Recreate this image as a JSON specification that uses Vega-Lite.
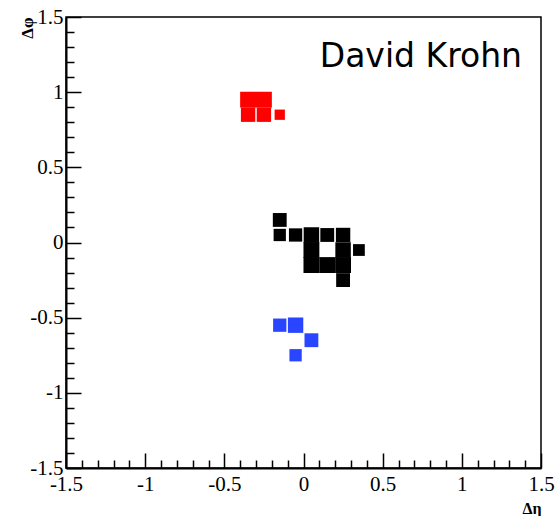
{
  "$schema": "https://vega.github.io/schema/vega-lite/v6.json",
  "width": 475,
  "height": 451,
  "autosize": "none",
  "padding": {"left": 66, "top": 17, "right": 16, "bottom": 48},
  "background": "white",
  "config": {"view": {"stroke": "black", "strokeWidth": 1.5}},
  "encoding": {
    "x": {
      "field": "eta", "type": "quantitative",
      "scale": {"domain": [-1.5, 1.5], "nice": false, "zero": false},
      "axis": {
        "title": "Δη", "titleFont": "Liberation Serif", "titleFontSize": 16, "titleFontWeight": "bold",
        "titleX": 475, "titleY": 32, "titleAlign": "right", "titleBaseline": "top", "titleColor": "black",
        "values": [-1.5,-1.4,-1.3,-1.2,-1.1,-1,-0.9,-0.8,-0.7,-0.6,-0.5,-0.4,-0.3,-0.2,-0.1,0,0.1,0.2,0.3,0.4,0.5,0.6,0.7,0.8,0.9,1,1.1,1.2,1.3,1.4,1.5],
        "labelExpr": "abs(datum.value*2 - round(datum.value*2)) < 0.001 ? '' + datum.value : ''",
        "labelFont": "Liberation Serif", "labelFontSize": 21, "labelColor": "black",
        "labelPadding": 20, "labelFlush": false, "labelOverlap": false, "labelBaseline": "top",
        "tickSize": -15, "tickColor": "black", "tickWidth": 1.5,
        "tickDash": {"condition": {"test": "abs(datum.value*2 - round(datum.value*2)) > 0.001", "value": [8, 40]}, "value": [1, 0]},
        "domainColor": "black", "domainWidth": 2, "grid": false
      }
    },
    "y": {
      "field": "phi", "type": "quantitative",
      "scale": {"domain": [-1.5, 1.5], "nice": false, "zero": false},
      "axis": {
        "title": "Δφ", "titleFont": "Liberation Serif", "titleFontSize": 17, "titleFontWeight": "bold",
        "titleX": -39, "titleY": 0, "titleAngle": -90, "titleAlign": "right", "titleBaseline": "middle", "titleColor": "black",
        "values": [-1.5,-1.4,-1.3,-1.2,-1.1,-1,-0.9,-0.8,-0.7,-0.6,-0.5,-0.4,-0.3,-0.2,-0.1,0,0.1,0.2,0.3,0.4,0.5,0.6,0.7,0.8,0.9,1,1.1,1.2,1.3,1.4,1.5],
        "labelExpr": "abs(datum.value*2 - round(datum.value*2)) < 0.001 ? '' + datum.value : ''",
        "labelFont": "Liberation Serif", "labelFontSize": 21, "labelColor": "black",
        "labelPadding": 18, "labelFlush": false, "labelOverlap": false, "labelBaseline": "middle",
        "tickSize": -15, "tickColor": "black", "tickWidth": 1.5,
        "tickDash": {"condition": {"test": "abs(datum.value*2 - round(datum.value*2)) > 0.001", "value": [8, 40]}, "value": [1, 0]},
        "domainColor": "black", "domainWidth": 2, "grid": false
      }
    }
  },
  "layer": [
    {
      "data": {"values": [
        {"eta": -0.35, "phi": 0.95, "w": 1.0, "jet": "A"},
        {"eta": -0.25, "phi": 0.95, "w": 1.0, "jet": "A"},
        {"eta": -0.35, "phi": 0.85, "w": 0.82, "jet": "A"},
        {"eta": -0.25, "phi": 0.85, "w": 0.82, "jet": "A"},
        {"eta": -0.15, "phi": 0.85, "w": 0.42, "jet": "A"},
        {"eta": -0.15, "phi": 0.15, "w": 0.76, "jet": "B"},
        {"eta": -0.15, "phi": 0.05, "w": 0.6, "jet": "B"},
        {"eta": -0.05, "phi": 0.05, "w": 0.7, "jet": "B"},
        {"eta": 0.05, "phi": 0.05, "w": 0.95, "jet": "B"},
        {"eta": 0.15, "phi": 0.05, "w": 0.76, "jet": "B"},
        {"eta": 0.25, "phi": 0.05, "w": 0.82, "jet": "B"},
        {"eta": 0.05, "phi": -0.05, "w": 1.0, "jet": "B"},
        {"eta": 0.25, "phi": -0.05, "w": 0.95, "jet": "B"},
        {"eta": 0.35, "phi": -0.05, "w": 0.55, "jet": "B"},
        {"eta": 0.05, "phi": -0.15, "w": 1.0, "jet": "B"},
        {"eta": 0.15, "phi": -0.15, "w": 1.0, "jet": "B"},
        {"eta": 0.25, "phi": -0.15, "w": 1.0, "jet": "B"},
        {"eta": 0.25, "phi": -0.25, "w": 0.76, "jet": "B"},
        {"eta": -0.15, "phi": -0.55, "w": 0.7, "jet": "C"},
        {"eta": -0.05, "phi": -0.55, "w": 0.94, "jet": "C"},
        {"eta": 0.05, "phi": -0.65, "w": 0.76, "jet": "C"},
        {"eta": -0.05, "phi": -0.75, "w": 0.6, "jet": "C"}
      ]},
      "mark": {"type": "square", "filled": true, "opacity": 1, "strokeWidth": 0},
      "encoding": {
        "size": {"field": "w", "type": "quantitative", "scale": {"type": "linear", "domain": [0, 1], "range": [0, 252], "zero": true}, "legend": null},
        "color": {"field": "jet", "type": "nominal", "scale": {"domain": ["A", "B", "C"], "range": ["#ff0000", "#000000", "#2a45ff"]}, "legend": null}
      }
    },
    {
      "data": {"values": [{"eta": 1.38, "phi": 1.167, "label": "David Krohn"}]},
      "mark": {"type": "text", "font": "DejaVu Sans", "fontSize": 33, "align": "right", "baseline": "alphabetic", "color": "black"},
      "encoding": {"text": {"field": "label", "type": "nominal"}}
    }
  ]
}
